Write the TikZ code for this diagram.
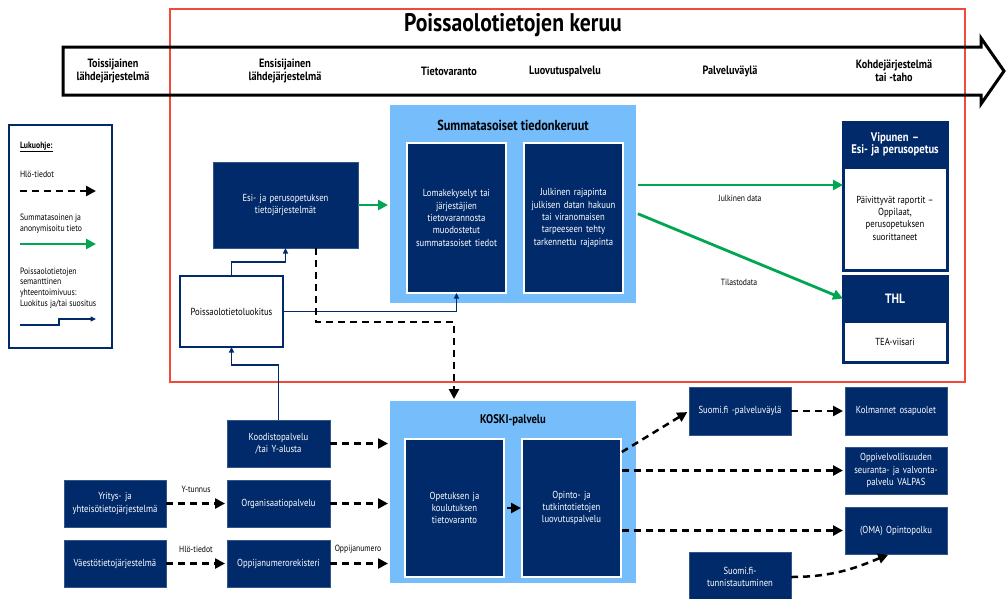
\documentclass[tikz,border=0pt]{standalone}
\usepackage{fontspec}
\setmainfont[FakeStretch=0.85]{PT Sans}
\usetikzlibrary{arrows.meta}
\definecolor{navy}{HTML}{002A6A}
\definecolor{lblue}{HTML}{76BDFC}
\definecolor{dgreen}{HTML}{00A651}
\definecolor{redc}{HTML}{F2493B}
\begin{document}
\begin{tikzpicture}[x=1pt,y=-1pt,
  every node/.style={font=\fontsize{10.2}{12.3}\selectfont, align=center, inner sep=0pt, outer sep=0pt},
  nbox/.style={fill=navy, text=white, draw=navy!80!white, line width=0.6pt, anchor=north west},
  ibox/.style={fill=navy, text=white, draw=white, line width=2.5pt, anchor=north west},
  cbox/.style={fill=lblue, draw=none, anchor=north west},
  hdr/.style={font=\fontsize{12}{13.5}\selectfont\bfseries},
  lg/.style={font=\fontsize{9.1}{10.8}\selectfont, align=left, anchor=west},
  lab/.style={font=\fontsize{9}{10.5}\selectfont},
  dsh/.style={draw=black, line width=2.5pt, dash pattern=on 7pt off 5pt, -{Triangle[length=10pt,width=10pt]}},
  garr/.style={draw=dgreen, line width=2.8pt, -{Triangle[length=10pt,width=10pt]}},
  sarr/.style={draw=navy, line width=1.2pt, -{Triangle[length=5.5pt,width=5pt]}},
  wh/.style 2 args={minimum width=#1, minimum height=#2, text width=#1-6pt}
]
\useasboundingbox (0,0) rectangle (1006,598);

% red frame and header arrow
\draw[redc, line width=2pt] (170,9) rectangle (965,382);
\draw[black, line width=3pt, line join=miter] (63,47) -- (981,47) -- (981,38) -- (1004,71) -- (981,104) -- (981,95) -- (63,95) -- cycle;
\node (title) at (513,25) {\fontsize{25.5}{29}\selectfont\bfseries Poissaolotietojen keruu};

\node[hdr] (h1) at (113,71) {Toissijainen\\lähdejärjestelmä};
\node[hdr] (h2) at (285,71) {Ensisijainen\\lähdejärjestelmä};
\node[hdr] (h3) at (449,71) {Tietovaranto};
\node[hdr] (h4) at (565,71) {Luovutuspalvelu};
\node[hdr] (h5) at (730,71) {Palveluväylä};
\node[hdr] (h6) at (894,71) {Kohdejärjestelmä\\tai -taho};

% legend
\node[draw=navy, line width=2pt, anchor=north west, minimum width=103, minimum height=223] (leg) at (9,125) {};
\node[lg] (lk) at (20,147) {\bfseries\underline{Lukuohje:}};
\node[lg] (l1) at (20,174) {Hlö-tiedot};
\node[lg] (l2) at (20,224) {Summatasoinen ja\\anonymisoitu tieto};
\node[lg] (l3) at (20,288) {Poissaolotietojen\\semanttinen\\yhteentoimivuus:\\Luokitus ja/tai suositus};
\coordinate (la1) at (20,191); \coordinate (la2) at (96,191);
\coordinate (lb1) at (20,244); \coordinate (lb2) at (96,244);
\coordinate (lc1) at (20,325); \coordinate (lc2) at (96,319);
\draw[dsh] (la1) -- (la2);
\draw[garr] (lb1) -- (lb2);
\draw[sarr] (lc1) -- (59,325) -- (59,319) -- (lc2);

% upper part
\node[nbox, wh={145pt}{86pt}] (esi) at (213,162) {Esi- ja perusopetuksen\\tietojärjestelmät};
\node[fill=white, draw=navy, line width=2.5pt, anchor=north west, wh={103pt}{71pt}] (poi) at (180,276) {Poissaolotietoluokitus};
\node[cbox, minimum width=246, minimum height=198] (sum) at (390,105) {};
\node (sumt) at (513,125) {\fontsize{14.5}{17}\selectfont\bfseries Summatasoiset tiedonkeruut};
\node[ibox, wh={99pt}{150pt}] (lom) at (407,143) {Lomakekyselyt tai\\järjestäjien\\tietovarannosta\\muodostetut\\summatasoiset tiedot};
\node[ibox, wh={99pt}{150pt}] (jul) at (524,143) {Julkinen rajapinta\\julkisen datan hakuun\\tai viranomaisen\\tarpeeseen tehty\\tarkennettu rajapinta};

\node[fill=white, draw=navy, line width=3pt, anchor=north west, minimum width=104, minimum height=148] (vip) at (843,122) {};
\node[nbox, draw=navy, line width=3pt, wh={104pt}{45pt}] (viph) at (843,122) {\fontsize{12.5}{14.5}\selectfont\bfseries Vipunen –\\Esi- ja perusopetus};
\node (vipt) at (895,218) {Päivittyvät raportit –\\Oppilaat,\\perusopetuksen\\suorittaneet};
\node[fill=white, draw=navy, line width=3pt, anchor=north west, minimum width=104, minimum height=86] (thl) at (843,276) {};
\node[nbox, draw=navy, line width=3pt, wh={104pt}{45pt}] (thlh) at (843,276) {\fontsize{13.5}{15}\selectfont\bfseries THL};
\node (thlt) at (895,342) {TEA-viisari};

\draw[garr, shorten >=2pt] (esi.east) -- (esi.east -| sum.west);
\draw[garr, shorten <=2pt] ([yshift=19pt]sum.east) -- ([yshift=19pt]sum.east -| vip.west);
\draw[garr, shorten <=2pt] ([yshift=-9pt]sum.east) -- (thlh.west);
\node[lab] (jd) at (740,198) {Julkinen data};
\node[lab] (td) at (739,282) {Tilastodata};

\draw[sarr] (poi.north) -- ++(0,-14) -| (esi.south);
\draw[sarr] (poi.east) -| (lom.south);

% lower part
\node[cbox, minimum width=246, minimum height=182] (koski) at (390,401) {};
\node (koskit) at (513,420) {\fontsize{12.5}{15}\selectfont\bfseries KOSKI-palvelu};
\node[ibox, wh={99pt}{138pt}] (opk) at (405,439) {Opetuksen ja\\koulutuksen\\tietovaranto};
\node[ibox, wh={99pt}{138pt}] (opt) at (522,439) {Opinto- ja\\tutkintotietojen\\luovutuspalvelu};

\node[nbox, wh={103pt}{47pt}] (kood) at (227,420) {Koodistopalvelu\\/tai Y-alusta};
\node[nbox, wh={103pt}{47pt}] (org) at (227,480) {Organisaatiopalvelu};
\node[nbox, wh={103pt}{47pt}] (opp) at (227,540) {Oppijanumerorekisteri};
\node[nbox, wh={102pt}{47pt}] (yri) at (64,480) {Yritys- ja\\yhteisötietojärjestelmä};
\node[nbox, wh={102pt}{47pt}] (vae) at (64,540) {Väestötietojärjestelmä};

\node[nbox, wh={102pt}{48pt}] (sfp) at (689,387) {Suomi.fi -palveluväylä};
\node[nbox, wh={102pt}{48pt}] (kol) at (845,387) {Kolmannet osapuolet};
\node[nbox, wh={102pt}{47pt}] (ovl) at (845,447) {Oppivelvollisuuden\\seuranta- ja valvonta-\\palvelu VALPAS};
\node[nbox, wh={102pt}{47pt}] (oma) at (845,507) {(OMA) Opintopolku};
\node[nbox, wh={102pt}{50pt}] (sft) at (689,552) {Suomi.fi-\\tunnistautuminen};

\draw[sarr] (kood.north) -- ++(0,-55) -| (poi.south);

\draw[dsh, shorten >=2pt] ([xshift=30.5pt]esi.south) -- ++(0,74) -| ([xshift=-59pt]koski.north);
\draw[dsh, shorten >=2pt] (kood.east) -- (kood.east -| koski.west);
\draw[dsh, shorten >=2pt] (org.east) -- (org.east -| koski.west);
\draw[dsh, shorten >=2pt] (opp.east) -- (opp.east -| koski.west);
\draw[dsh, shorten >=2pt] (yri.east) -- (org.west);
\draw[dsh, shorten >=2pt] (vae.east) -- (opp.west);
\node[lab] (yt) at (196,489) {Y-tunnus};
\node[lab] (ht) at (196,549) {Hlö-tiedot};
\node[lab] (on) at (358,549) {Oppijanumero};
\draw[dsh, dash pattern=on 4pt off 4pt, shorten <=3pt, shorten >=1pt] (opk.east) -- (opt.west);

\draw[dsh, shorten <=1pt, shorten >=2pt] ([yshift=55.5pt]opt.east) -- (sfp.west);
\draw[dsh, shorten >=2pt] (sfp.east) -- (kol.west);
\draw[dsh, shorten <=1pt, shorten >=2pt] (opt.east |- ovl.west) -- (ovl.west);
\draw[dsh, shorten <=1pt, shorten >=2pt] (opt.east |- oma.west) -- (oma.west);
\draw[dsh, shorten >=2pt] (sft.east) .. controls +(45,0) and +(-30,12) .. ([xshift=-6pt]oma.south);
\end{tikzpicture}
\end{document}
